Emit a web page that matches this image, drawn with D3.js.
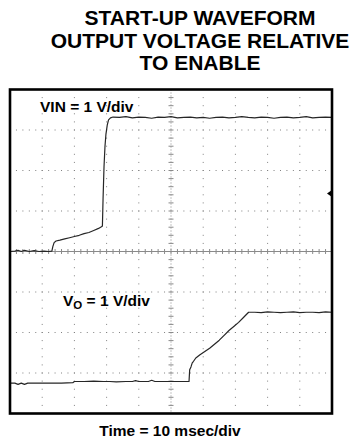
<!DOCTYPE html>
<html>
<head>
<meta charset="utf-8">
<script src="https://cdn.jsdelivr.net/npm/d3@7"></script>
<style>
  html, body { margin: 0; padding: 0; background: #fff; }
  svg { display: block; }
  text { font-family: "Liberation Sans", Arial, Helvetica, sans-serif; font-weight: bold; fill: #000; }
</style>
</head>
<body>
<svg id="chart" width="356" height="440"></svg>
<script>
// ---- Chart text ----
const titleLines = ["START-UP WAVEFORM", "OUTPUT VOLTAGE RELATIVE", "TO ENABLE"];
const timeLabel = "Time = 10 msec/div";
const vinLabel = "VIN = 1 V/div";
const voLabelMain = "V";
const voLabelSub = "O";
const voLabelRest = " = 1 V/div";

// ---- Screen settings ----
const timeSpanMs = 100;       // 10 divisions x 10 ms
const hDivs = 10;
const vDivs = 8;
const vinVoltsPerDiv = 1;
const voVoltsPerDiv = 1;
const vinOffsetDiv = 0;       // VIN ground marker position (divisions from centre)
const voOffsetDiv = -3.25;    // VO ground position (divisions from centre)
const triggerLevel = 1.43;    // trigger level on VIN, volts

// ---- VIN trace: time (ms) and voltage (V) ----
const vinTime = [
  0, 1.5, 2.5, 3.5, 4.5, 6, 7.5, 9, 10.5, 12, 13.0, 13.3, 13.7, 14.3,
  15.5, 17, 18.5, 20, 21.5, 23, 24.5, 26, 27.5, 28.4, 28.7, 28.9, 29.2,
  29.5, 29.8, 30.2, 30.6, 31.2, 32,
  34, 36, 38, 40, 42, 44, 46, 48, 50, 52, 54, 56, 58, 60, 62, 64, 66,
  68, 70, 72, 74, 76, 78, 80, 82, 84, 86, 88, 90, 92, 94, 96, 98, 100
];
const vinVolts = [
  0.00, 0.01, 0.03, 0.00, 0.03, 0.00, 0.02, 0.00, 0.01, 0.00, 0.01, 0.12, 0.22, 0.26,
  0.28, 0.31, 0.34, 0.37, 0.40, 0.44, 0.47, 0.52, 0.57, 0.61, 0.63, 1.30, 2.10,
  2.60, 2.90, 3.12, 3.25, 3.30, 3.32,
  3.31, 3.33, 3.30, 3.32, 3.31, 3.29, 3.32, 3.31, 3.33, 3.30, 3.31, 3.32, 3.30, 3.31, 3.29, 3.31, 3.32,
  3.30, 3.31, 3.33, 3.31, 3.30, 3.32, 3.31, 3.29, 3.31, 3.32, 3.30, 3.31, 3.33, 3.30, 3.31, 3.32, 3.31
];

// ---- VO trace: time (ms) and voltage (V) ----
const voTime = [
  0, 1.5, 2.5, 3.5, 4.5, 5.5, 8, 12, 16, 19.5, 20, 23, 26, 29, 31, 33, 36, 38, 39, 40,
  43, 44, 45, 48, 51, 54, 55.6, 55.8, 56.2, 56.6, 57.0, 57.7, 59, 60.5, 62, 63.5, 65,
  66.5, 68, 69.5, 71, 72.5, 74.1,
  76, 78, 80, 82, 84, 86, 88, 90, 92, 94, 96, 98, 100
];
const voVolts = [
  0.00, 0.00, -0.03, 0.00, -0.03, 0.00, 0.00, 0.00, 0.00, 0.01, 0.04, 0.04, 0.05, 0.04, 0.04, 0.03, 0.04, 0.04, 0.06, 0.04,
  0.04, 0.07, 0.04, 0.04, 0.04, 0.04, 0.04, 0.33, 0.40, 0.50, 0.54, 0.62, 0.70, 0.78, 0.86, 0.96, 1.06,
  1.18, 1.30, 1.40, 1.50, 1.62, 1.75,
  1.75, 1.74, 1.76, 1.75, 1.74, 1.75, 1.76, 1.74, 1.75, 1.75, 1.74, 1.76, 1.75
];

// ---- Layout ----
const svg = d3.select("#chart");
const plot = { left: 10, right: 332, top: 89.5, bottom: 413.5 };

const x = d3.scaleLinear().domain([0, timeSpanMs]).range([plot.left, plot.right]);
// vertical scale in screen divisions, centre = 0
const yDiv = d3.scaleLinear().domain([-vDivs / 2, vDivs / 2]).range([plot.bottom, plot.top]);
const xDiv = d3.scaleLinear().domain([0, hDivs]).range([plot.left, plot.right]);

const yVin = v => yDiv(vinOffsetDiv + v / vinVoltsPerDiv);
const yVo = v => yDiv(voOffsetDiv + v / voVoltsPerDiv);

// ---- Title ----
svg.append("g")
  .selectAll("text")
  .data(titleLines)
  .join("text")
  .attr("x", 200)
  .attr("y", (d, i) => 25 + i * 22.5)
  .attr("text-anchor", "middle")
  .attr("font-size", 21)
  .text(d => d);

// ---- Graticule ----
const grid = svg.append("g").attr("fill", "#808080");
const minor = 5;

// dotted horizontal lines (skip centre)
d3.range(1, vDivs).filter(k => k !== vDivs / 2).forEach(k => {
  const yy = yDiv(k - vDivs / 2);
  grid.selectAll(null)
    .data(d3.range(1, hDivs * minor))
    .join("rect")
    .attr("x", d => xDiv(d / minor) - 0.5)
    .attr("y", yy - 0.5)
    .attr("width", 1)
    .attr("height", 1);
});

// dotted vertical lines (skip centre)
d3.range(1, hDivs).filter(k => k !== hDivs / 2).forEach(k => {
  const xx = xDiv(k);
  grid.selectAll(null)
    .data(d3.range(1, vDivs * minor))
    .join("rect")
    .attr("x", xx - 0.5)
    .attr("y", d => yDiv(d / minor - vDivs / 2) - 0.5)
    .attr("width", 1)
    .attr("height", 1);
});

// centre cross with minor ticks
const cx = xDiv(hDivs / 2), cy = yDiv(0);
const cross = svg.append("g").attr("stroke", "#8a8a8a").attr("stroke-width", 1);
cross.append("line")
  .attr("x1", plot.left).attr("x2", plot.right)
  .attr("y1", cy).attr("y2", cy);
cross.append("line")
  .attr("x1", cx).attr("x2", cx)
  .attr("y1", plot.top).attr("y2", plot.bottom)
  .attr("stroke-dasharray", "1,2");
cross.selectAll(".hx")
  .data(d3.range(1, hDivs * minor))
  .join("line")
  .attr("x1", d => xDiv(d / minor)).attr("x2", d => xDiv(d / minor))
  .attr("y1", cy - 2.5).attr("y2", cy + 2.5);
cross.selectAll(".vy")
  .data(d3.range(1, vDivs * minor))
  .join("line")
  .attr("y1", d => yDiv(d / minor - vDivs / 2)).attr("y2", d => yDiv(d / minor - vDivs / 2))
  .attr("x1", cx - 2.5).attr("x2", cx + 2.5);

// ---- Traces ----
const line = d3.line().curve(d3.curveLinear);

const vinPts = vinTime.map((t, i) => [x(t), yVin(vinVolts[i])]);
const voPts = voTime.map((t, i) => [x(t), yVo(voVolts[i])]);

const traces = svg.append("g")
  .attr("fill", "none")
  .attr("stroke", "#262626")
  .attr("stroke-width", 1.2)
  .attr("stroke-linejoin", "round");
traces.append("path").attr("d", line(vinPts));
traces.append("path").attr("d", line(voPts));

// ---- Frame ----
svg.append("rect")
  .attr("x", plot.left).attr("y", plot.top)
  .attr("width", plot.right - plot.left)
  .attr("height", plot.bottom - plot.top)
  .attr("fill", "none")
  .attr("stroke", "#000")
  .attr("stroke-width", 2.6);

// trigger level marker on right edge
const ty = yVin(triggerLevel);
svg.append("path")
  .attr("d", `M${plot.right - 5},${ty} L${plot.right},${ty - 3.5} L${plot.right},${ty + 3.5} Z`)
  .attr("fill", "#000");

// ---- Channel labels ----
svg.append("text")
  .attr("x", 40).attr("y", 111.5)
  .attr("font-size", 15.5)
  .text(vinLabel);

const vo = svg.append("text")
  .attr("x", 63).attr("y", 305.5)
  .attr("font-size", 15.5);
vo.append("tspan").text(voLabelMain);
vo.append("tspan").attr("font-size", 11.5).attr("dy", 3.5).text(voLabelSub);
vo.append("tspan").attr("dy", -3.5).text(voLabelRest);

// ---- Time base label ----
svg.append("text")
  .attr("x", 170).attr("y", 436)
  .attr("text-anchor", "middle")
  .attr("font-size", 15.5)
  .text(timeLabel);
</script>
</body>
</html>
